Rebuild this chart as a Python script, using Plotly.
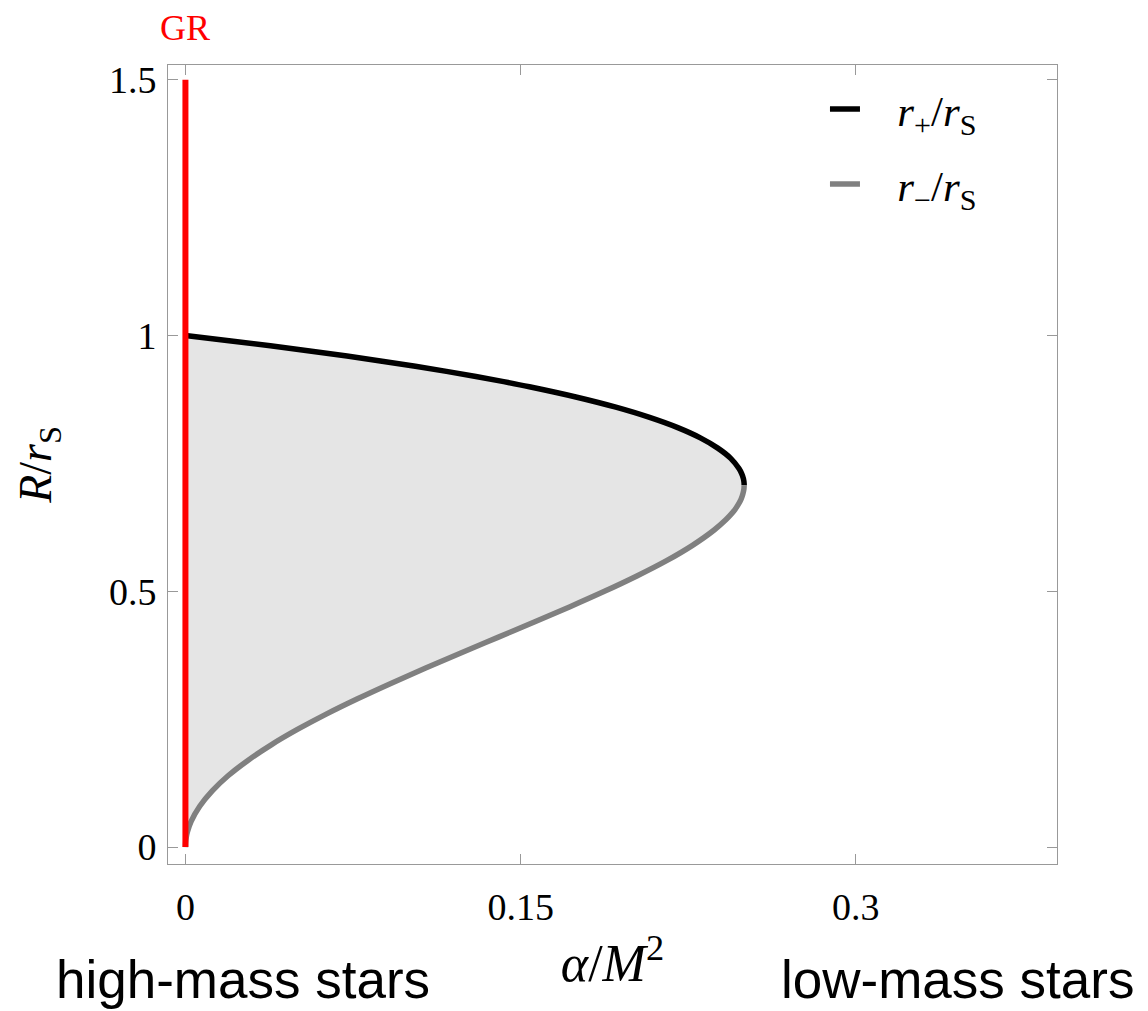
import plotly.graph_objects as go

# Upper branch r_+/r_S
r_plus_R = [1.00, 0.99, 0.98, 0.97, 0.96, 0.95, 0.94, 0.93, 0.92, 0.91, 0.90,
            0.88, 0.86, 0.84, 0.82, 0.80, 0.78, 0.76, 0.74, 0.73, 0.72, 0.71, 0.707]
r_plus_alpha = [0.0, 0.0195, 0.038, 0.0556, 0.0723, 0.088, 0.1029, 0.1168, 0.130, 0.1424, 0.1539,
                0.1747, 0.1926, 0.2077, 0.2203, 0.2304, 0.2382, 0.244, 0.2477, 0.2489, 0.2497, 0.2500, 0.2500]

# Lower branch r_-/r_S
r_minus_R = [0.707, 0.70, 0.69, 0.68, 0.67, 0.66, 0.65, 0.64, 0.62, 0.59, 0.56, 0.53, 0.50,
             0.47, 0.44, 0.41, 0.38, 0.35, 0.32, 0.29, 0.26, 0.23, 0.20, 0.17, 0.14,
             0.11, 0.08, 0.05, 0.03, 0.02, 0.01, 0.0]
r_minus_alpha = [0.2500, 0.2499, 0.2494, 0.2486, 0.2474, 0.2459, 0.244, 0.2418, 0.2366, 0.2269, 0.2153, 0.202, 0.1875,
                 0.1721, 0.1561, 0.1398, 0.1235, 0.1075, 0.0919, 0.077, 0.063, 0.0501, 0.0384, 0.0281, 0.0192,
                 0.012, 0.0064, 0.0025, 0.0009, 0.0004, 0.0001, 0.0]

# GR line
gr_alpha = [0.0, 0.0]
gr_R = [0.0, 1.5]

x_ticks = [0, 0.15, 0.3]
x_tick_labels = ["0", "0.15", "0.3"]
y_ticks = [0, 0.5, 1, 1.5]
y_tick_labels = ["0", "0.5", "1", "1.5"]

SERIF = "Liberation Serif"
SANS = "Liberation Sans"

fig = go.Figure()

fig.add_trace(go.Scatter(
    x=r_plus_alpha + r_minus_alpha, y=r_plus_R + r_minus_R,
    mode="lines", fill="toself", fillcolor="#e5e5e5",
    line=dict(width=0, color="rgba(0,0,0,0)"), showlegend=False, hoverinfo="skip"))

fig.add_trace(go.Scatter(
    x=r_plus_alpha, y=r_plus_R, mode="lines",
    line=dict(color="black", width=5.5, shape="spline"),
    name="&nbsp;&nbsp;&nbsp;<i>r</i><sub>+</sub>/<i>r</i><sub>S</sub>", legendgroup="a"))

fig.add_trace(go.Scatter(
    x=r_minus_alpha, y=r_minus_R, mode="lines",
    line=dict(color="#808080", width=5.5, shape="spline"),
    name="&nbsp;&nbsp;&nbsp;<i>r</i><sub>−</sub>/<i>r</i><sub>S</sub>", legendgroup="b"))

fig.add_trace(go.Scatter(
    x=gr_alpha, y=gr_R, mode="lines",
    line=dict(color="#ff0000", width=6), showlegend=False))

axis_common = dict(
    showgrid=False, zeroline=False, showline=True, linecolor="#999999", linewidth=1,
    mirror="ticks", ticks="inside", ticklen=10, tickcolor="#999999", tickwidth=1,
    tickfont=dict(family=SERIF, size=38, color="black"),
)

fig.update_layout(
    width=1140, height=1003,
    margin=dict(l=160, r=91, t=57, b=147),
    paper_bgcolor="white", plot_bgcolor="white",
    xaxis=dict(range=[-0.0078, 0.39], tickvals=x_ticks, ticktext=x_tick_labels,
               ticklabelstandoff=9,
               title=dict(text="<i>α</i>/<i>M</i><sup>2</sup>", font=dict(family=SERIF, size=52, color="black"),
                          standoff=18),
               **axis_common),
    yaxis=dict(range=[-0.033, 1.529], tickvals=y_ticks, ticktext=y_tick_labels,
               ticklabelstandoff=3,
               title=dict(text="<i>R</i>/<i>r</i><sub>S</sub>", font=dict(family=SERIF, size=46, color="black"),
                          standoff=42),
               **axis_common),
    legend=dict(x=0.739, y=0.988, xanchor="left", yanchor="top",
                font=dict(family=SERIF, size=43, color="black"),
                bgcolor="rgba(0,0,0,0)", tracegroupgap=16, traceorder="grouped"),
    annotations=[
        dict(text="GR", x=0, xref="x", y=1.046, yref="paper", showarrow=False,
             font=dict(family=SERIF, size=36, color="#ff0000"), xanchor="center", yanchor="middle"),
        dict(text="high-mass stars", x=0.084, xref="paper", y=-0.144, yref="paper", showarrow=False,
             font=dict(family=SANS, size=53, color="black"), xanchor="center", yanchor="middle"),
        dict(text="low-mass stars", x=0.8885, xref="paper", y=-0.144, yref="paper", showarrow=False,
             font=dict(family=SANS, size=53, color="black"), xanchor="center", yanchor="middle"),
    ],
)

fig.write_html("out.html")
